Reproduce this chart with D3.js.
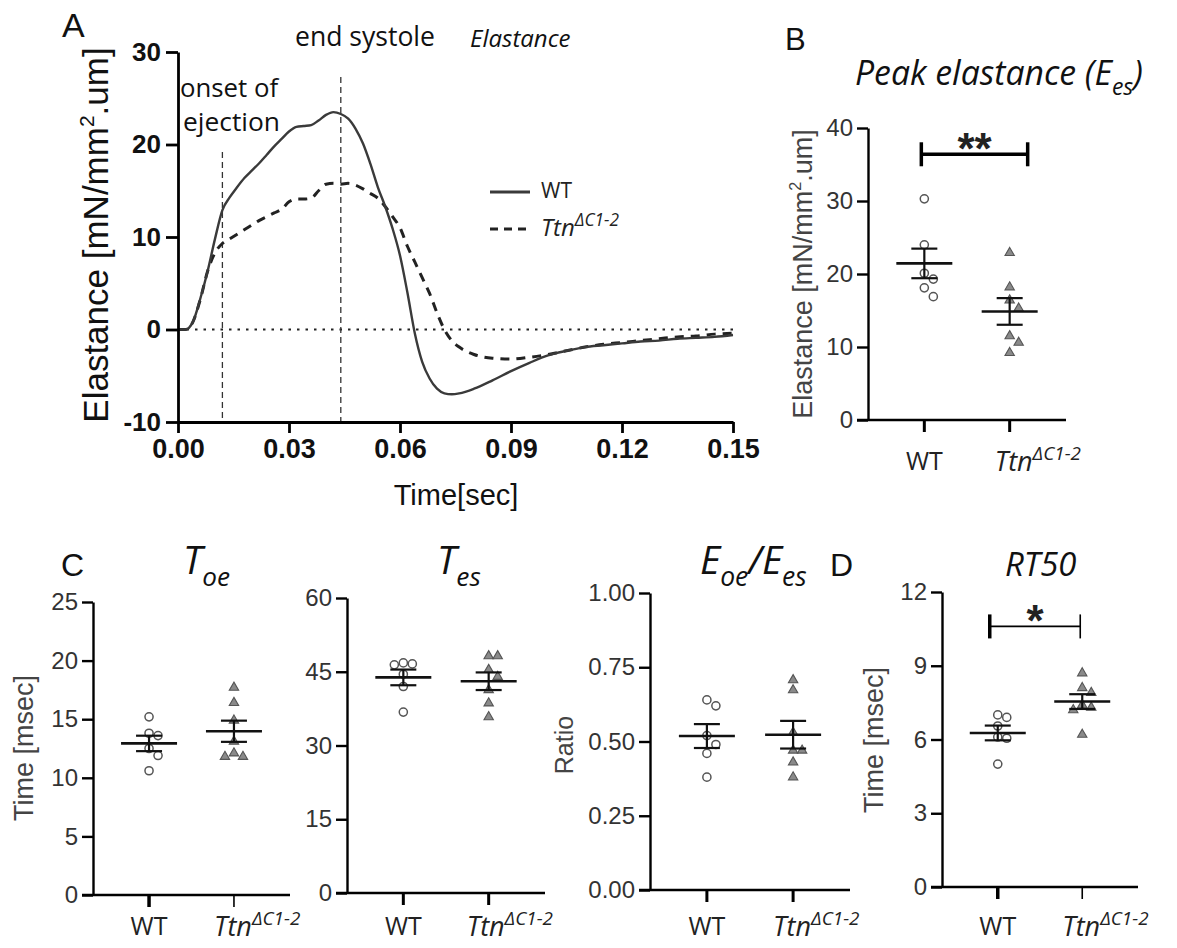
<!DOCTYPE html>
<html>
<head>
<meta charset="utf-8">
<script src="https://cdn.jsdelivr.net/npm/d3@7"></script>
<style>
  body { margin: 0; background: #fff; }
  svg { display: block; }
</style>
</head>
<body>
<div id="chart"></div>
<script>
// ---- panel A : elastance traces ----
var timePts = [0, .002, .004, .006, .008, .010, .012, .014, .016, .018, .020, .022, .024, .026, .028,
  .030, .032, .034, .036, .038, .040, .042, .044, .046, .048, .050, .052, .054, .056, .058, .060,
  .062, .064, .066, .068, .070, .072, .074, .076, .080, .085, .090, .095, .100, .105, .110, .115,
  .120, .125, .130, .135, .140, .145, .150];
var wtElast = [0, 0, 0.8, 3.3, 6.3, 9.8, 12.9, 14.3, 15.4, 16.4, 17.2, 18.0, 18.9, 19.8, 20.6,
  21.4, 21.9, 22.0, 22.1, 22.6, 23.2, 23.5, 23.3, 22.8, 21.7, 20.1, 17.9, 15.4, 13.3, 10.9, 8.0,
  4.0, -0.4, -3.5, -5.3, -6.4, -6.9, -7.0, -6.9, -6.4, -5.5, -4.5, -3.6, -2.8, -2.3, -1.9, -1.7,
  -1.5, -1.3, -1.2, -1.0, -0.9, -0.8, -0.6];
var ttnElast = [0, 0, 0.8, 3.2, 6.3, 8.3, 9.3, 9.8, 10.3, 10.8, 11.3, 11.8, 12.2, 12.6, 13.0,
  13.8, 14.1, 14.1, 14.2, 15.0, 15.7, 15.8, 15.7, 15.8, 15.6, 15.2, 14.7, 14.2, 13.3, 12.2, 11.0,
  9.0, 7.3, 5.6, 3.9, 1.8, 0.0, -1.2, -1.9, -2.7, -3.1, -3.2, -3.0, -2.7, -2.3, -1.9, -1.6,
  -1.4, -1.2, -1.0, -0.8, -0.7, -0.5, -0.4];
var onsetTime = 0.012, endSystoleTime = 0.044;
var xTicksA = [0, 0.03, 0.06, 0.09, 0.12, 0.15];
var yTicksA = [-10, 0, 10, 20, 30];

// ---- scatter panels ----
var groups = ["WT", "Ttn"];
var peakWT = [30.3, 24.0, 20.1, 19.3, 18.1, 16.9];
var peakTtn = [22.9, 18.2, 16.4, 15.3, 11.5, 10.6, 9.2];
var toeWT = [15.2, 13.8, 13.6, 12.5, 11.9, 10.6];
var toeTtn = [17.7, 16.4, 14.9, 13.1, 12.1, 11.8, 11.8];
var tesWT = [46.8, 46.6, 46.4, 44.5, 42.0, 36.8];
var tesTtn = [48.2, 48.2, 45.4, 44.0, 41.3, 38.6, 35.8];
var ratioWT = [0.64, 0.62, 0.52, 0.49, 0.46, 0.38];
var ratioTtn = [0.707, 0.673, 0.53, 0.47, 0.47, 0.43, 0.38];
var rt50WT = [7.0, 6.9, 6.55, 6.1, 6.05, 5.0];
var rt50Ttn = [8.7, 8.1, 7.9, 7.4, 7.3, 7.2, 6.2];

var peakTicks = [0, 10, 20, 30, 40];
var toeTicks = [0, 5, 10, 15, 20, 25];
var tesTicks = [0, 15, 30, 45, 60];
var ratioTicks = [0, 0.25, 0.5, 0.75, 1];
var rt50Ticks = [0, 3, 6, 9, 12];

var ARIAL = "'Liberation Sans', Arial, sans-serif";
var CAL = "'Open Sans', 'Noto Sans', sans-serif";

var W = 1177, H = 948;
var svg = d3.select("#chart").append("svg")
  .attr("width", W).attr("height", H);
svg.append("rect").attr("width", W).attr("height", H).attr("fill", "#fff");

// text with sub/superscript parts, optional fit to a width
function addText(parent, x, y, parts, o) {
  o = o || {};
  var size = o.size || 20;
  var g = parent.append("g");
  var t = g.append("text")
    .attr("font-family", o.font || ARIAL)
    .attr("font-size", size)
    .attr("font-weight", o.weight || "normal")
    .attr("font-style", o.italic ? "italic" : "normal")
    .attr("fill", o.fill || "#000")
    .attr("text-anchor", o.anchor || "start");
  var shift = 0;
  parts.forEach(function(p) {
    var s = t.append("tspan").text(p[0]);
    var want = p[1] === "sub" ? size * 0.3 : p[1] === "sup" ? -size * 0.4 : 0;
    if (want !== shift) s.attr("dy", want - shift);
    if (p[1]) s.attr("font-size", size * (o.small || 0.68));
    shift = want;
  });
  var k = 1;
  if (o.fitW) k = o.fitW / t.node().getBBox().width;
  g.attr("transform", `translate(${x},${y}) rotate(${o.rotate || 0}) scale(${k})`);
  return g;
}

// ================= Panel A =================
var ax = d3.scaleLinear().domain([0, 0.15]).range([178, 733]);
var ay = d3.scaleLinear().domain([-10, 30]).range([422, 52]);

// annotations (drawn under the axis)
addText(svg, 180, 97, [["onset of"]], {font: CAL, size: 22, fitW: 100, fill: "#111"});
addText(svg, 183, 131, [["ejection"]], {font: CAL, size: 22, fitW: 97, fill: "#111"});
addText(svg, 295, 46, [["end systole"]], {font: CAL, size: 22, fitW: 140, fill: "#111"});
addText(svg, 470, 47, [["Elastance"]], {font: CAL, size: 24, italic: true, fill: "#111"});

// zero line
svg.append("line")
  .attr("x1", ax(0)).attr("x2", ax(0.15))
  .attr("y1", ay(0)).attr("y2", ay(0))
  .attr("stroke", "#222").attr("stroke-width", 2.2)
  .attr("stroke-dasharray", "2.5,6");

// guides
[[onsetTime, 19.2], [endSystoleTime, 27.3]].forEach(function(g) {
  svg.append("line")
    .attr("x1", ax(g[0])).attr("x2", ax(g[0]))
    .attr("y1", ay(g[1])).attr("y2", ay(-10))
    .attr("stroke", "#333").attr("stroke-width", 1.3)
    .attr("stroke-dasharray", "6,4");
});

var traceLine = d3.line()
  .x(function(d, i) { return ax(timePts[i]); })
  .y(function(d) { return ay(d); })
  .curve(d3.curveMonotoneX);

svg.append("path").datum(ttnElast)
  .attr("d", traceLine).attr("fill", "none")
  .attr("stroke", "#222").attr("stroke-width", 3)
  .attr("stroke-dasharray", "9,7");
svg.append("path").datum(wtElast)
  .attr("d", traceLine).attr("fill", "none")
  .attr("stroke", "#3a3a3a").attr("stroke-width", 2.4);

// axes
var plainNum = function(d) { return String(d); };
var yAxisA = svg.append("g").attr("transform", `translate(${ax(0)},0)`)
  .call(d3.axisLeft(ay).tickValues(yTicksA).tickFormat(plainNum)
    .tickSize(12).tickSizeOuter(0).tickPadding(5));
var xAxisA = svg.append("g").attr("transform", `translate(0,${ay(-10)})`)
  .call(d3.axisBottom(ax).tickValues(xTicksA).tickFormat(d3.format(".2f"))
    .tickSize(11).tickSizeOuter(0).tickPadding(6));
[yAxisA, xAxisA].forEach(function(a) {
  a.attr("font-family", ARIAL).attr("font-weight", "bold").attr("font-size", 26);
  a.selectAll("path, line").attr("stroke", "#000").attr("stroke-width", 2.8);
  a.selectAll("text").attr("fill", "#111");
});
xAxisA.attr("font-size", 27);

addText(svg, 108, 235, [["Elastance [mN/mm"], ["2", "sup"], [".um]"]],
  {size: 35, rotate: -90, anchor: "middle", fill: "#111", small: 0.6});
addText(svg, 456, 505, [["Time[sec]"]], {size: 29, anchor: "middle", fill: "#111"});
addText(svg, 62, 37, [["A"]], {size: 34, fill: "#111"});

// legend
svg.append("line").attr("x1", 490).attr("x2", 530).attr("y1", 192).attr("y2", 192)
  .attr("stroke", "#3a3a3a").attr("stroke-width", 3);
svg.append("line").attr("x1", 490).attr("x2", 528).attr("y1", 229).attr("y2", 229)
  .attr("stroke", "#222").attr("stroke-width", 3).attr("stroke-dasharray", "8,6");
addText(svg, 541, 198, [["WT"]], {font: CAL, size: 21, fill: "#222"});
addText(svg, 541, 236, [["Ttn"], ["\u0394C1-2", "sup"]], {font: CAL, size: 24, italic: true, fill: "#222", small: 0.72});

// ================= scatter panels =================
function dodge(vals, y, step) {
  var placed = [];
  var tries = [0, 1, -1, 2, -2, 3, -3];
  return vals.map(function(v) {
    var py = y(v), off = 0;
    for (var i = 0; i < tries.length; i++) {
      off = tries[i] * step;
      var hit = placed.some(function(p) {
        return Math.abs(p.dx - off) < step - 0.5 && Math.abs(p.y - py) < step;
      });
      if (!hit) break;
    }
    var pt = {v: v, dx: off, y: py};
    placed.push(pt);
    return pt;
  });
}

function scatterPanel(c) {
  var top = c.ticks[c.ticks.length - 1];
  var y = d3.scaleLinear().domain([0, top]).range([c.y0, c.yTop]);
  var x = d3.scalePoint().domain(groups).range([c.x0, c.x1]).padding(0.66);
  var g = svg.append("g");

  var yAx = g.append("g").attr("transform", `translate(${c.x0},0)`)
    .call(d3.axisLeft(y).tickValues(c.ticks).tickFormat(c.fmt || d3.format("d"))
      .tickSize(11).tickSizeOuter(0).tickPadding(4));
  yAx.attr("font-family", ARIAL).attr("font-size", 24);
  yAx.selectAll("path, line").attr("stroke", "#000").attr("stroke-width", 2.4);
  yAx.selectAll("text").attr("fill", "#333");

  g.append("line").attr("x1", c.x0 - 11).attr("x2", c.x1)
    .attr("y1", c.y0).attr("y2", c.y0)
    .attr("stroke", "#000").attr("stroke-width", 2.4);
  groups.forEach(function(gr, i) {
    g.append("line").attr("x1", x(gr)).attr("x2", x(gr))
      .attr("y1", c.y0).attr("y2", c.y0 + 12)
      .attr("stroke", "#000").attr("stroke-width", c.tickW[i]);
  });

  [c.wt, c.ttn].forEach(function(vals, i) {
    var cx = x(groups[i]);
    var pts = dodge(vals, y, 9);
    g.selectAll(null).data(pts).enter().append("path")
      .attr("transform", function(d) { return `translate(${cx + d.dx},${d.y})`; })
      .attr("d", d3.symbol().type(i === 0 ? d3.symbolCircle : d3.symbolTriangle).size(i === 0 ? 52 : 38)())
      .attr("fill", i === 0 ? "#fff" : "#8a8a8a")
      .attr("stroke", "#555")
      .attr("stroke-width", i === 0 ? 1.5 : 1.1);

    var m = d3.mean(vals), sem = d3.deviation(vals) / Math.sqrt(vals.length);
    g.append("line").attr("x1", cx - 28).attr("x2", cx + 28)
      .attr("y1", y(m)).attr("y2", y(m))
      .attr("stroke", "#111").attr("stroke-width", 2.6);
    g.append("line").attr("x1", cx).attr("x2", cx)
      .attr("y1", y(m - sem)).attr("y2", y(m + sem))
      .attr("stroke", "#111").attr("stroke-width", 2.2);
    [m - sem, m + sem].forEach(function(v) {
      g.append("line").attr("x1", cx - 13).attr("x2", cx + 13)
        .attr("y1", y(v)).attr("y2", y(v))
        .attr("stroke", "#111").attr("stroke-width", 2.2);
    });
  });

  if (c.sig) {
    var s = c.sig, by = y(s.at);
    var xa = x("WT") + s.from, xb = x("Ttn") + s.to;
    g.append("line").attr("x1", xa).attr("x2", xb).attr("y1", by).attr("y2", by)
      .attr("stroke", "#000").attr("stroke-width", s.w);
    [[xa, s.capW[0]], [xb, s.capW[1]]].forEach(function(e) {
      g.append("line").attr("x1", e[0]).attr("x2", e[0]).attr("y1", by - 12).attr("y2", by + 12)
        .attr("stroke", "#000").attr("stroke-width", e[1]);
    });
    addText(g, (xa + xb) / 2, by + 10, [[s.label]], {size: 44, weight: "bold", anchor: "middle", fill: "#222"});
  }

  addText(svg, x("WT"), c.labelY, [["WT"]], {font: CAL, size: 25, anchor: "middle", fill: "#222"});
  addText(svg, x("Ttn") + c.ttnOff, c.labelY + 1, [["Ttn"], ["\u0394C1-2", "sup"]],
    {font: CAL, size: 27, italic: true, fill: "#222", small: 0.7});
  addText(svg, c.titleX, c.titleY, c.title, {font: CAL, size: 30, italic: true, fitW: c.titleW, fill: "#111"});
  if (c.ylab) {
    addText(svg, c.ylabX, c.ylabY, c.ylab,
      {size: c.ylabSize, rotate: -90, anchor: "middle", fill: "#444", small: 0.6});
  }
}

scatterPanel({wt: peakWT, ttn: peakTtn, ticks: peakTicks, x0: 868, x1: 1066, y0: 420, yTop: 128,
  tickW: [3, 3], labelY: 470, ttnOff: -15,
  title: [["Peak elastance (E"], ["es", "sub"], [")"]], titleX: 855, titleY: 85, titleW: 288,
  ylab: [["Elastance [mN/mm"], ["2", "sup"], [".um]"]], ylabX: 812, ylabY: 274, ylabSize: 27,
  sig: {at: 36.4, from: -3, to: 18, w: 3.5, capW: [3.5, 3.5], label: "**"}});

scatterPanel({wt: toeWT, ttn: toeTtn, ticks: toeTicks, x0: 93, x1: 290, y0: 895, yTop: 602,
  tickW: [3.5, 1.6], labelY: 935, ttnOff: -20,
  title: [["T"], ["oe", "sub"]], titleX: 183, titleY: 574, titleW: 47,
  ylab: [["Time [msec]"]], ylabX: 33, ylabY: 748, ylabSize: 27});

scatterPanel({wt: tesWT, ttn: tesTtn, ticks: tesTicks, x0: 347, x1: 545, y0: 893, yTop: 598,
  tickW: [3, 3], labelY: 935, ttnOff: -22,
  title: [["T"], ["es", "sub"]], titleX: 437, titleY: 574, titleW: 44});

scatterPanel({wt: ratioWT, ttn: ratioTtn, ticks: ratioTicks, x0: 650, x1: 850, y0: 890, yTop: 593,
  fmt: d3.format(".2f"), tickW: [3, 3], labelY: 935, ttnOff: -20,
  title: [["E"], ["oe", "sub"], ["/E"], ["es", "sub"]], titleX: 700, titleY: 574, titleW: 107,
  ylab: [["Ratio"]], ylabX: 573, ylabY: 745, ylabSize: 25});

scatterPanel({wt: rt50WT, ttn: rt50Ttn, ticks: rt50Ticks, x0: 942, x1: 1138, y0: 887, yTop: 592,
  tickW: [3.5, 1.6], labelY: 935, ttnOff: -20,
  title: [["RT50"]], titleX: 1005, titleY: 576, titleW: 72,
  ylab: [["Time [msec]"]], ylabX: 883, ylabY: 740, ylabSize: 27,
  sig: {at: 10.6, from: -8, to: -2, w: 1.6, capW: [3.5, 1.6], label: "*"}});

addText(svg, 785, 50, [["B"]], {size: 31, fill: "#111"});
addText(svg, 61, 576, [["C"]], {size: 32, fill: "#111"});
addText(svg, 830, 576, [["D"]], {size: 32, fill: "#111"});
</script>
</body>
</html>
